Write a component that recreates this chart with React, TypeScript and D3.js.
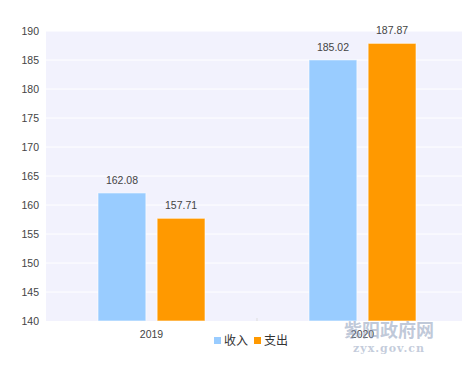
import * as d3 from "d3";
import { useEffect, useRef } from "react";

const years = ["2019", "2020"];
const seriesNames = ["收入", "支出"];
const income = [162.08, 185.02];
const spending = [157.71, 187.87];
const yTicks = [140, 145, 150, 155, 160, 165, 170, 175, 180, 185, 190];
const colors = ["#99ccff", "#ff9900"];

function App() {
    const svgRef = useRef(null);
    const width = 462, height = 371;
    const marginLeft = 46, marginTop = 31, marginBottom = 50;
    const font = "'Liberation Sans', sans-serif";

    useEffect(() => {
        const svg = d3.select(svgRef.current);
        svg.selectAll("*").remove();

        const x = d3.scaleBand().domain(years).range([marginLeft, 468]);
        const y = d3.scaleLinear([140, 190], [height - marginBottom, marginTop]);
        const inner = d3.scaleBand().domain(seriesNames).range([0, 107]).paddingInner(0.19);

        svg.append("rect")
            .attr("x", marginLeft).attr("y", marginTop)
            .attr("width", 468 - marginLeft).attr("height", y(140) - marginTop)
            .attr("fill", "#f2f2fd");

        // grid
        svg.append("g").selectAll("line").data(yTicks.slice(1)).join("line")
            .attr("x1", marginLeft).attr("x2", 468)
            .attr("y1", d => y(d)).attr("y2", d => y(d))
            .attr("stroke", "#ffffff").attr("stroke-width", 1);

        // y tick labels
        svg.append("g").selectAll("text").data(yTicks).join("text")
            .attr("x", 39).attr("y", d => y(d) + 4)
            .attr("text-anchor", "end")
            .style("font-family", font)
            .style("font-size", "10.5px")
            .attr("fill", "#444")
            .text(d => d);

        // separator tick
        svg.append("line")
            .attr("x1", x("2020")).attr("x2", x("2020"))
            .attr("y1", y(140) - 3).attr("y2", y(140))
            .attr("stroke", "#ddd");

        const rows = years.map((yr, i) => [
            { yr, s: seriesNames[0], v: income[i], c: colors[0] },
            { yr, s: seriesNames[1], v: spending[i], c: colors[1] },
        ]).flat();

        const offset = (x.bandwidth() - 107) / 2;
        const g = svg.append("g");
        g.selectAll("rect").data(rows).join("rect")
            .attr("x", d => x(d.yr) + offset + inner(d.s))
            .attr("y", d => y(d.v))
            .attr("width", inner.bandwidth())
            .attr("height", d => y(140) - y(d.v))
            .attr("fill", d => d.c)
            .attr("stroke", "#ffffff").attr("stroke-opacity", 0.6).attr("stroke-width", 1);

        g.selectAll("text").data(rows).join("text")
            .attr("x", d => x(d.yr) + offset + inner(d.s) + inner.bandwidth() / 2)
            .attr("y", d => y(d.v) - 9)
            .attr("text-anchor", "middle")
            .style("font-family", font)
            .style("font-size", "10.5px")
            .attr("fill", "#444")
            .text(d => d.v.toFixed(2));

        // x labels
        svg.append("g").selectAll("text").data(years).join("text")
            .attr("x", d => x(d) + x.bandwidth() / 2)
            .attr("y", y(140) + 17)
            .attr("text-anchor", "middle")
            .style("font-family", font)
            .style("font-size", "10.5px")
            .attr("fill", "#444")
            .text(d => d);

        // legend
        const legend = svg.append("g").attr("transform", "translate(214,341)");
        seriesNames.forEach((s, i) => {
            const lg = legend.append("g").attr("transform", `translate(${i * 40},0)`);
            lg.append("rect").attr("x", 0).attr("y", -4).attr("width", 7).attr("height", 7).attr("fill", colors[i]);
            lg.append("text").attr("x", 10).attr("y", 4)
                .style("font-family", "'Noto Sans CJK SC', sans-serif")
                .style("font-size", "12px")
                .attr("fill", "#333")
                .text(s);
        });

        // watermark
        svg.append("text").attr("x", 389).attr("y", 337)
            .attr("text-anchor", "middle")
            .style("font-family", "'Noto Sans CJK SC', sans-serif")
            .style("font-size", "18px").style("font-weight", "bold")
            .attr("fill", "#8a9ab8").attr("fill-opacity", 0.55)
            .text("紫阳政府网");
        svg.append("text").attr("x", 389).attr("y", 352)
            .attr("text-anchor", "middle")
            .style("font-family", "'DejaVu Serif', serif")
            .style("font-size", "11px").style("font-weight", "bold")
            .style("letter-spacing", "1px")
            .attr("fill", "#8a9ab8").attr("fill-opacity", 0.5)
            .text("zyx.gov.cn");
    }, []);

    return (
        <svg ref={svgRef} width={width} height={height}
            style={{ position: "absolute", left: 0, top: 0 }} />
    );
}

export default App;
